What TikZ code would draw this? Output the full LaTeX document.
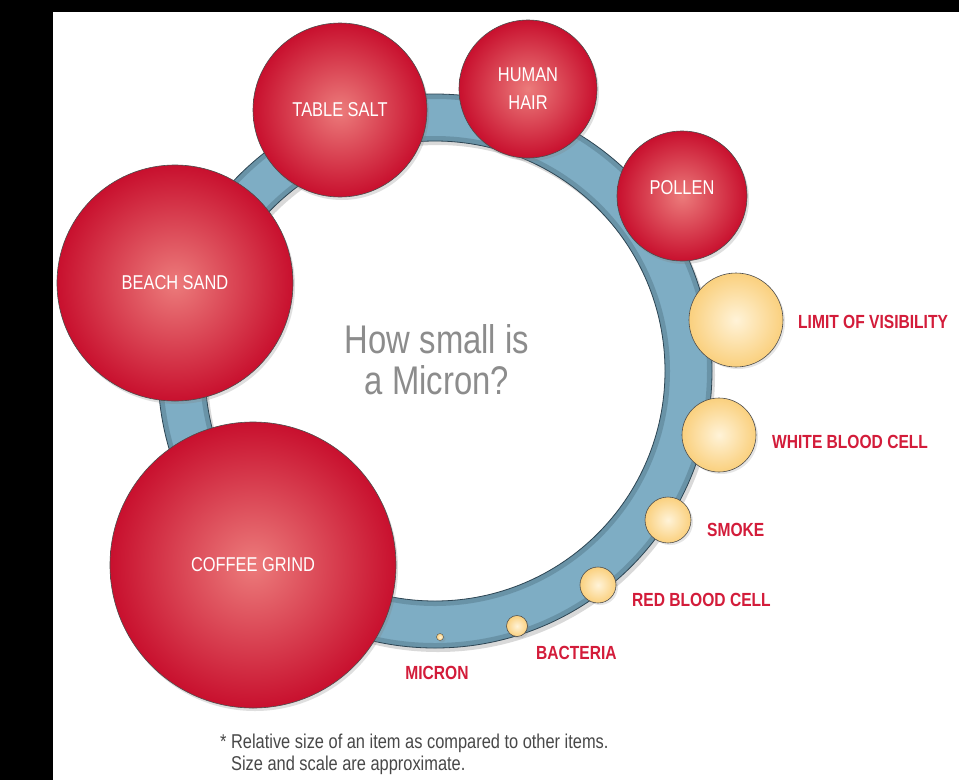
\documentclass[tikz,border=0pt]{standalone}
\usepackage{fontspec}
\setmainfont{Liberation Sans}
\newfontfamily\condfont[FakeStretch=0.82]{Liberation Sans}
\usetikzlibrary{shadows}
\definecolor{ballred}{HTML}{C8102E}
\definecolor{ballpink}{HTML}{EC7B7B}
\definecolor{cellyellow}{HTML}{FAD07E}
\definecolor{cellcream}{HTML}{FFF3D8}
\definecolor{ringblue}{HTML}{7EADC4}
\definecolor{ringedge}{HTML}{2E4654}
\definecolor{labelred}{HTML}{D31C3A}
\definecolor{titlegray}{HTML}{8C8C8C}
\definecolor{notegray}{HTML}{484848}
\begin{document}
\begin{tikzpicture}%
	[x=1pt, y=-1pt,
	ball/.style={circle, inner sep=0pt, draw=black!70, semithick, shading=radial,
		inner color=ballpink, outer color=ballred, text=white, align=center,
		font=\condfont\fontsize{20}{28}\selectfont,
		drop shadow={opacity=0.25, shadow xshift=2pt, shadow yshift=-3pt}},
	cell/.style={circle, inner sep=0pt, draw=black!70, semithick, shading=radial,
		inner color=cellcream, outer color=cellyellow,
		drop shadow={opacity=0.2, shadow xshift=2pt, shadow yshift=-2pt}},
	cellname/.style={inner sep=0pt, text=labelred, font=\condfont\bfseries\fontsize{19}{22}\selectfont},
	title/.style={align=center, text=titlegray, font=\condfont\fontsize{40}{41}\selectfont},
	note/.style={inner sep=0pt, align=left, text=notegray, font=\condfont\fontsize{20}{22}\selectfont}]
%
\useasboundingbox (0,0) rectangle (959,780);
\fill[white] (0,0) rectangle (959,780);
\fill[black] (0,0) rectangle (53,780);
\fill[black] (0,0) rectangle (959,12);
%%
%% the ring
%%
\fill[black, opacity=0.15, even odd rule] (438,375) circle (277) (438,375) circle (230);
\fill[ringblue, even odd rule] (435,371) circle (277) (435,371) circle (230);
\draw[ringedge, opacity=0.25, line width=5pt] (435,371) circle (274.5);
\draw[ringedge, opacity=0.25, line width=5pt] (435,371) circle (232.5);
\draw[ringedge, thick] (435,371) circle (277);
\draw[ringedge, thick] (435,371) circle (230);
%%
%% large items
%%
\node[ball, minimum size=236pt] (sand) at (175,283) {BEACH SAND};
\node[ball, minimum size=174pt] (salt) at (340,110) {TABLE SALT};
\node[ball, minimum size=138pt] (hair) at (528,89) {HUMAN\\HAIR};
\node[ball, minimum size=130pt] (pollen) at (682,196) {\raisebox{8pt}[\height][\depth]{POLLEN}};
\node[ball, minimum size=286pt] (coffee) at (253,565) {COFFEE GRIND};
%%
%% small items
%%
\node[cell, minimum size=94pt] (vis) at (736,320) {};
\node[cell, minimum size=74pt] (wbc) at (719,435) {};
\node[cell, minimum size=46pt] (smoke) at (668,520) {};
\node[cell, minimum size=36pt] (rbc) at (598,585) {};
\node[cell, minimum size=21pt] (bact) at (517,626) {};
\node[cell, minimum size=7pt, thin] (micron) at (440,637) {};
%%
%% names of the small items
%%
\node[cellname, anchor=west] (vislbl) at (798,322) {LIMIT OF VISIBILITY};
\node[cellname, anchor=west] (wbclbl) at (772,442) {WHITE BLOOD CELL};
\node[cellname, anchor=west] (smokelbl) at (707,530) {SMOKE};
\node[cellname, anchor=west] (rbclbl) at (632,600) {RED BLOOD CELL};
\node[cellname, anchor=west] (bactlbl) at (536,653) {BACTERIA};
\node[cellname] (micronlbl) at (437,673) {MICRON};
%%
%% texts
%%
\node[title] (question) at (437,360) {How small is\\a Micron?};
\node[note, anchor=north west] (footnote) at (220,734)
	{* Relative size of an item as compared to other items.\\\hphantom{*\ }Size and scale are approximate.};
\end{tikzpicture}
\end{document}
